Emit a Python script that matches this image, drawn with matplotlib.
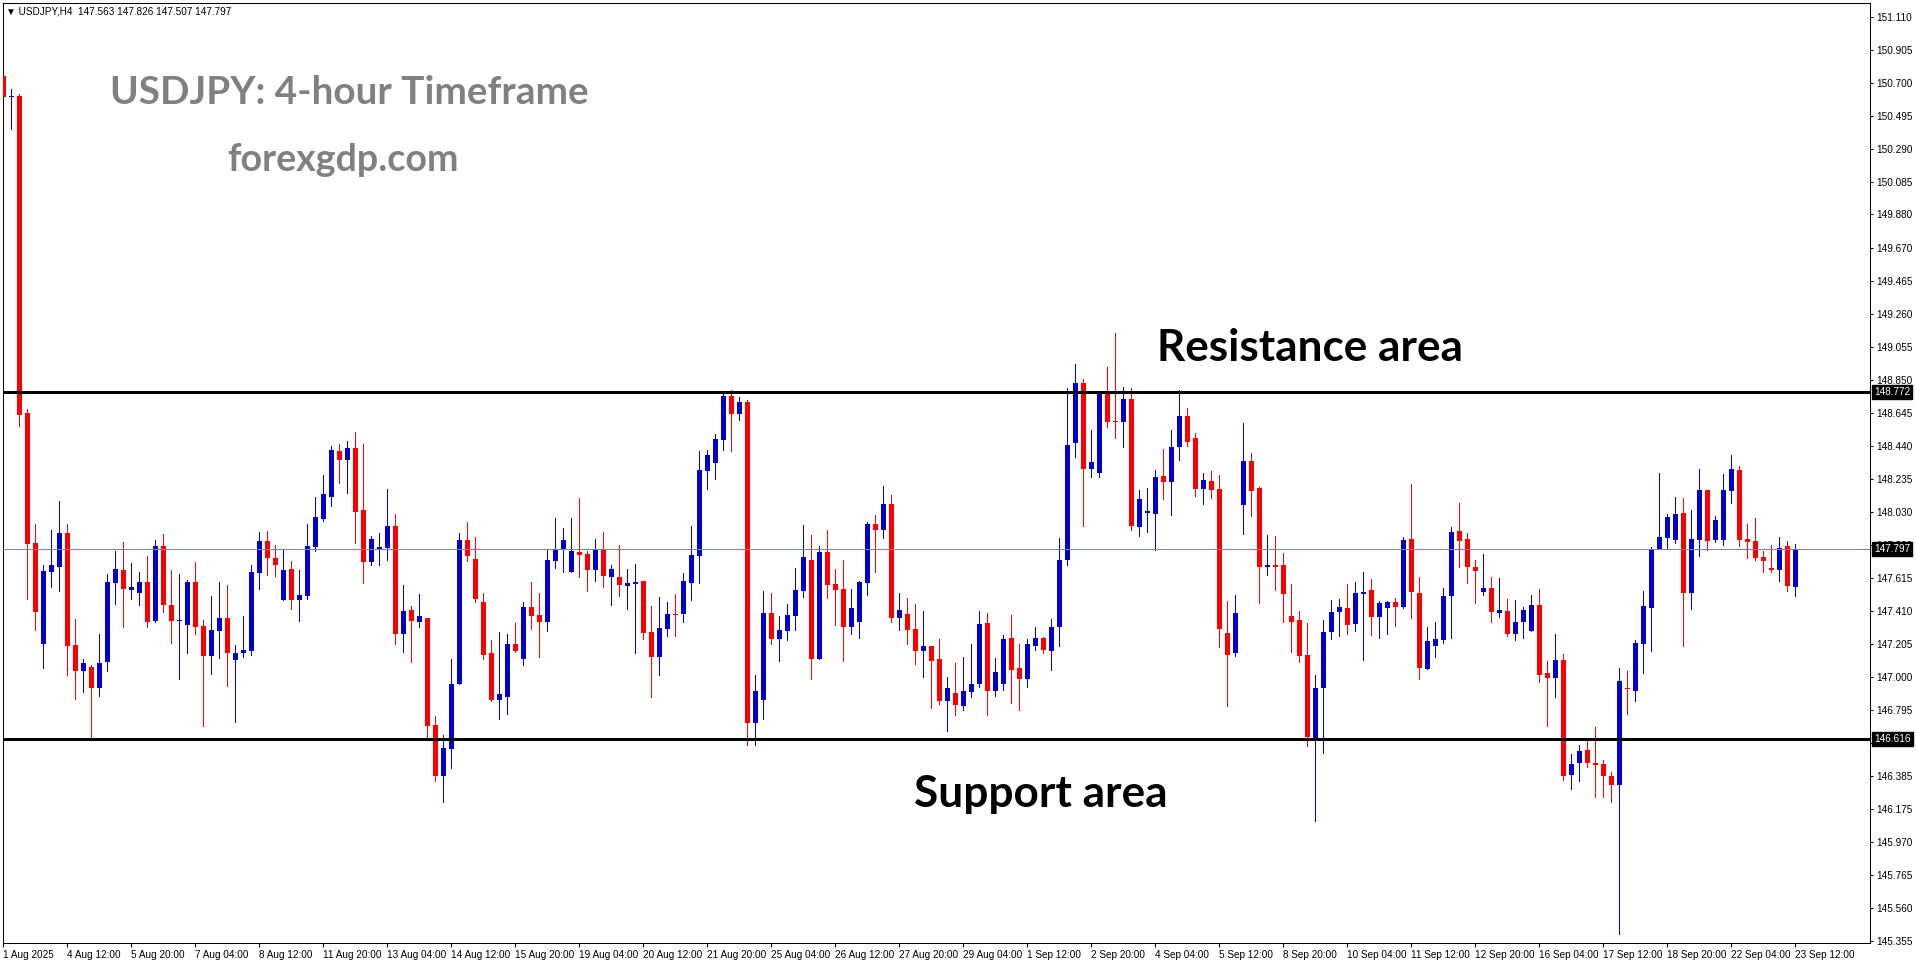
import matplotlib
matplotlib.use('Agg')
import matplotlib.pyplot as plt
import matplotlib.transforms as mtransforms
import numpy as np

W, H = 1916, 964

# USDJPY H4 candles, first visible bar is 1 Aug 2025 04:00
opens = [
    150.742, 150.612, 150.618, 148.642, 147.833, 147.208, 147.656, 147.687, 147.897, 147.200,
    147.040, 147.063, 146.928, 147.090, 147.588, 147.667, 147.544, 147.525, 147.592, 147.351,
    147.816, 147.449, 147.351, 147.326, 147.592, 147.318, 147.133, 147.289, 147.368, 147.108,
    147.146, 147.164, 147.650, 147.847, 147.741, 147.482, 147.673, 147.482, 147.507, 147.812,
    147.986, 148.123, 148.408, 148.354, 148.426, 148.038, 147.718, 147.793, 147.804, 147.941,
    147.270, 147.418, 147.345, 147.368, 146.701, 146.386, 146.554, 146.953, 147.853, 147.735,
    147.467, 147.150, 146.859, 146.878, 147.206, 147.114, 147.436, 147.386, 147.345, 147.725,
    147.793, 147.656, 147.779, 147.766, 147.663, 147.791, 147.623, 147.623, 147.569, 147.581,
    147.598, 147.281, 147.121, 147.301, 147.393, 147.389, 147.588, 147.756, 148.285, 148.335,
    148.478, 148.750, 148.640, 148.713, 146.710, 146.859, 147.399, 147.239, 147.289, 147.382,
    147.538, 147.729, 147.114, 147.779, 147.579, 147.548, 147.308, 147.339, 147.588, 147.953,
    147.918, 148.078, 147.364, 147.393, 147.299, 147.164, 147.193, 147.112, 146.853, 146.901,
    146.822, 146.909, 146.953, 147.337, 146.915, 146.953, 147.243, 147.056, 146.990, 147.195,
    147.243, 147.164, 147.314, 147.729, 148.457, 148.831, 148.298, 148.273, 148.769, 148.596,
    148.590, 148.731, 147.936, 148.024, 148.017, 148.252, 148.217, 148.435, 148.626, 148.489,
    148.173, 148.221, 148.171, 147.274, 147.146, 148.073, 148.345, 148.177, 147.687, 147.698,
    147.698, 147.380, 147.355, 147.137, 146.620, 146.928, 147.277, 147.407, 147.430, 147.332,
    147.519, 147.542, 147.376, 147.432, 147.467, 147.438, 147.860, 147.523, 147.052, 147.195,
    147.227, 147.507, 147.909, 147.860, 147.685, 147.532, 147.555, 147.401, 147.411, 147.270,
    147.339, 147.289, 147.449, 147.027, 146.996, 147.106, 146.390, 146.463, 146.546, 146.465,
    146.459, 146.384, 146.330, 146.934, 146.915, 147.208, 147.432, 147.797, 147.866, 147.853,
    148.022, 147.523, 147.853, 148.165, 147.853, 147.853, 148.159, 148.289, 147.860, 147.847,
    147.748, 147.679, 147.667, 147.816, 147.563,
]
highs = [
    150.925, 150.661, 150.630, 148.669, 147.953, 147.698, 147.916, 148.096, 147.953, 147.362,
    147.112, 147.075, 147.268, 147.642, 147.785, 147.841, 147.710, 147.654, 147.754, 147.853,
    147.891, 147.667, 147.642, 147.604, 147.716, 147.355, 147.505, 147.592, 147.573, 147.200,
    147.382, 147.698, 147.903, 147.909, 147.822, 147.797, 147.723, 147.667, 147.953, 148.121,
    148.258, 148.439, 148.451, 148.470, 148.526, 148.451, 147.878, 147.897, 148.171, 148.015,
    147.573, 147.442, 147.517, 147.368, 146.757, 146.639, 147.112, 147.897, 147.965, 147.872,
    147.523, 147.231, 147.281, 147.268, 147.337, 147.467, 147.592, 147.523, 147.797, 147.990,
    147.928, 147.990, 148.115, 147.785, 147.860, 147.903, 147.698, 147.822, 147.673, 147.704,
    147.598, 147.442, 147.498, 147.467, 147.517, 147.648, 147.941, 148.408, 148.414, 148.513,
    148.763, 148.785, 148.744, 148.725, 147.009, 147.536, 147.523, 147.380, 147.455, 147.679,
    147.947, 147.885, 147.816, 147.916, 147.673, 147.729, 147.548, 147.600, 147.965, 148.009,
    148.190, 148.134, 147.523, 147.492, 147.455, 147.411, 147.193, 147.237, 147.002, 147.088,
    147.121, 147.208, 147.411, 147.399, 147.119, 147.262, 147.386, 147.208, 147.237, 147.312,
    147.249, 147.362, 147.866, 148.800, 148.949, 148.856, 148.538, 148.780, 148.931, 149.142,
    148.806, 148.800, 148.165, 148.177, 148.289, 148.420, 148.538, 148.788, 148.675, 148.520,
    148.271, 148.283, 148.258, 147.474, 147.511, 148.582, 148.395, 148.183, 147.885, 147.878,
    147.772, 147.579, 147.411, 147.337, 147.015, 147.355, 147.480, 147.486, 147.579, 147.592,
    147.654, 147.611, 147.474, 147.474, 147.492, 147.872, 148.202, 147.623, 147.312, 147.343,
    147.555, 147.934, 148.084, 147.897, 147.729, 147.766, 147.623, 147.617, 147.486, 147.482,
    147.436, 147.511, 147.548, 147.102, 147.270, 147.145, 146.517, 146.577, 146.608, 146.689,
    146.484, 146.409, 147.056, 147.038, 147.231, 147.536, 147.810, 148.271, 148.015, 148.121,
    148.115, 148.040, 148.296, 148.165, 148.003, 148.264, 148.383, 148.314, 147.953, 147.990,
    147.785, 147.822, 147.872, 147.847, 147.826,
]
lows = [
    150.551, 150.412, 148.563, 147.488, 147.293, 147.058, 147.557, 147.538, 147.009, 146.863,
    146.909, 146.625, 146.884, 147.034, 147.457, 147.308, 147.488, 147.451, 147.308, 147.339,
    147.407, 147.214, 146.984, 147.152, 147.270, 146.697, 147.021, 147.115, 146.946, 146.722,
    147.121, 147.139, 147.550, 147.635, 147.629, 147.476, 147.426, 147.351, 147.488, 147.787,
    147.974, 148.067, 148.210, 148.148, 147.831, 147.582, 147.694, 147.700, 147.729, 147.202,
    147.158, 147.096, 147.314, 146.625, 146.350, 146.220, 146.430, 146.953, 147.725, 147.469,
    147.114, 146.853, 146.741, 146.772, 147.158, 147.077, 147.301, 147.121, 147.283, 147.681,
    147.656, 147.656, 147.623, 147.536, 147.598, 147.557, 147.445, 147.507, 147.426, 147.146,
    147.239, 146.872, 147.015, 147.252, 147.258, 147.345, 147.482, 147.588, 148.173, 148.235,
    148.416, 148.410, 148.597, 146.579, 146.579, 146.741, 147.208, 147.102, 147.227, 147.295,
    147.500, 146.990, 147.114, 147.494, 147.326, 147.102, 147.270, 147.245, 147.513, 147.656,
    147.868, 147.345, 147.295, 147.208, 147.083, 147.002, 146.809, 146.834, 146.666, 146.766,
    146.797, 146.872, 146.940, 146.766, 146.884, 146.921, 146.840, 146.791, 146.940, 147.170,
    147.146, 147.046, 147.195, 147.700, 148.370, 147.941, 148.248, 148.248, 148.559, 148.491,
    148.435, 147.912, 147.880, 147.905, 147.793, 148.111, 148.011, 148.354, 148.441, 148.129,
    148.080, 148.117, 147.189, 146.822, 147.133, 147.887, 148.005, 147.463, 147.637, 147.544,
    147.339, 147.158, 147.096, 146.567, 146.100, 146.529, 147.239, 147.252, 147.270, 147.283,
    147.108, 147.264, 147.245, 147.270, 147.320, 147.430, 147.364, 146.990, 147.052, 147.127,
    147.214, 147.245, 147.687, 147.588, 147.463, 147.513, 147.339, 147.376, 147.252, 147.233,
    147.245, 147.289, 146.971, 146.697, 146.872, 146.360, 146.300, 146.350, 146.436, 146.250,
    146.250, 146.220, 145.400, 146.772, 146.853, 147.027, 147.164, 147.797, 147.804, 147.835,
    147.195, 147.420, 147.754, 147.791, 147.841, 147.822, 148.084, 147.816, 147.741, 147.729,
    147.654, 147.654, 147.598, 147.536, 147.507,
]
closes = [
    150.610, 150.618, 148.632, 147.829, 147.407, 147.660, 147.698, 147.897, 147.195, 147.040,
    147.088, 146.934, 147.088, 147.592, 147.673, 147.550, 147.561, 147.592, 147.345, 147.816,
    147.445, 147.351, 147.357, 147.592, 147.308, 147.133, 147.293, 147.368, 147.146, 147.150,
    147.169, 147.654, 147.847, 147.743, 147.700, 147.667, 147.482, 147.511, 147.816, 147.997,
    148.140, 148.414, 148.354, 148.426, 148.030, 147.718, 147.860, 147.810, 147.941, 147.270,
    147.411, 147.351, 147.380, 146.697, 146.386, 146.556, 146.957, 147.853, 147.750, 147.488,
    147.139, 146.859, 146.894, 147.206, 147.164, 147.436, 147.382, 147.345, 147.729, 147.797,
    147.853, 147.785, 147.760, 147.667, 147.791, 147.629, 147.673, 147.573, 147.586, 147.592,
    147.276, 147.121, 147.305, 147.393, 147.387, 147.598, 147.760, 148.289, 148.383, 148.482,
    148.750, 148.640, 148.713, 146.710, 146.913, 147.399, 147.239, 147.293, 147.386, 147.542,
    147.748, 147.114, 147.779, 147.575, 147.544, 147.308, 147.430, 147.592, 147.953, 147.918,
    148.078, 147.364, 147.418, 147.295, 147.164, 147.193, 147.102, 146.853, 146.932, 146.828,
    146.913, 146.957, 147.330, 146.915, 147.031, 147.237, 147.046, 146.990, 147.206, 147.243,
    147.170, 147.312, 147.729, 148.445, 148.831, 148.298, 148.339, 148.769, 148.590, 148.590,
    148.731, 147.943, 148.109, 148.034, 148.246, 148.217, 148.433, 148.626, 148.466, 148.173,
    148.227, 148.167, 147.301, 147.139, 147.399, 148.345, 148.161, 147.687, 147.700, 147.687,
    147.519, 147.345, 147.133, 146.627, 146.934, 147.281, 147.405, 147.436, 147.326, 147.523,
    147.532, 147.376, 147.461, 147.467, 147.438, 147.853, 147.532, 147.058, 147.225, 147.237,
    147.505, 147.903, 147.849, 147.687, 147.662, 147.555, 147.407, 147.418, 147.270, 147.343,
    147.418, 147.449, 147.015, 146.996, 147.106, 146.380, 146.460, 146.540, 146.463, 146.452,
    146.380, 146.330, 146.975, 146.922, 147.212, 147.442, 147.797, 147.872, 147.997, 148.015,
    147.523, 147.860, 148.165, 147.847, 147.978, 148.165, 148.296, 147.853, 147.841, 147.741,
    147.723, 147.667, 147.804, 147.567, 147.797,
]

# time labels, one every 8 bars after the first
date_labels = ['1 Aug 2025', '4 Aug 12:00', '5 Aug 20:00', '7 Aug 04:00', '8 Aug 12:00',
               '11 Aug 20:00', '13 Aug 04:00', '14 Aug 12:00', '15 Aug 20:00', '19 Aug 04:00',
               '20 Aug 12:00', '21 Aug 20:00', '25 Aug 04:00', '26 Aug 12:00', '27 Aug 20:00',
               '29 Aug 04:00', '1 Sep 12:00', '2 Sep 20:00', '4 Sep 04:00', '5 Sep 12:00',
               '8 Sep 20:00', '10 Sep 04:00', '11 Sep 12:00', '12 Sep 20:00', '16 Sep 04:00',
               '17 Sep 12:00', '18 Sep 20:00', '22 Sep 04:00', '23 Sep 12:00']

price_ticks = [151.110, 150.905, 150.700, 150.495, 150.290, 150.085, 149.880, 149.670,
               149.465, 149.260, 149.055, 148.850, 148.645, 148.440, 148.235, 148.030,
               147.820, 147.615, 147.410, 147.205, 147.000, 146.795, 146.590, 146.385,
               146.175, 145.970, 145.765, 145.560, 145.355]

resistance = 148.772
support = 146.616

BLUE = '#0000CD'
RED = '#FF0000'
small_font = ['Liberation Sans', 'DejaVu Sans']

o = np.array(opens)
h = np.array(highs)
l = np.array(lows)
c = np.array(closes)
x = np.arange(len(o))
up = c >= o
colors = np.where(up, BLUE, RED)

fig = plt.figure(figsize=(W / 100, H / 100), dpi=100)
ax = fig.add_axes([2.7 / W, 1 - 943 / H, (1870 - 2.7) / W, (943 - 3) / H])
ax.set_xlim(-0.075, 233.34)
ax.set_ylim(145.343, 151.197)

px = 72 / 100  # one pixel in points

# wicks and bodies
ax.vlines(x, l, h, colors=colors, linewidth=px, antialiased=False, zorder=2)
body_lo = np.minimum(o, c)
body_h = np.maximum(np.abs(c - o), 0.0065)
ax.bar(x, body_h, bottom=body_lo, width=0.62, color=colors, linewidth=0,
       antialiased=False, zorder=3)

# support / resistance and bid line
ax.axhline(resistance, color='black', linewidth=2.8 * px, zorder=5, antialiased=False)
ax.axhline(support, color='black', linewidth=2.8 * px, zorder=5, antialiased=False)
ax.axhline(c[-1], color='#778899', linewidth=px, zorder=4, antialiased=False)

for s in ax.spines.values():
    s.set_linewidth(px)
    s.set_color('black')

# axes ticks
ax.yaxis.tick_right()
ax.set_yticks(price_ticks)
ax.set_yticklabels([f'{v:.3f}' for v in price_ticks], fontfamily=small_font, fontsize=7.2)
ax.tick_params(axis='y', length=3 * px, width=px, pad=2, colors='black')

xt = [0] + [8 * k for k in range(1, len(date_labels))]
ax.set_xticks(xt)
ax.set_xticklabels(date_labels, fontfamily=small_font, fontsize=7.2, ha='left')
ax.tick_params(axis='x', length=4 * px, width=px, pad=2, colors='black')

# price boxes on the right scale
trans = mtransforms.blended_transform_factory(ax.transAxes, ax.transData)
for v in [resistance, c[-1], support]:
    ax.text(1.0 + 4 / 1867, v, f'{v:.3f}', transform=trans, ha='left', va='center',
            fontfamily=small_font, fontsize=7.2, color='white', zorder=10, clip_on=False,
            bbox=dict(boxstyle='square,pad=0.2', facecolor='black', edgecolor='black'))

# header
fig.text(6 / W, 1 - 11 / H, '\u25bc USDJPY,H4  %.3f %.3f %.3f %.3f' % (o[-1], h[-1], l[-1], c[-1]),
         fontfamily=small_font, fontsize=7.2, va='center', ha='left')

# annotations
fig.text(110 / W, 1 - 104 / H, 'USDJPY: 4-hour Timeframe', fontfamily='Lato', fontweight='bold',
         fontsize=27.9, color='#808080', va='baseline', ha='left')
fig.text(227 / W, 1 - 171 / H, 'forexgdp.com', fontfamily='Lato', fontweight='bold',
         fontsize=27.1, color='#808080', va='baseline', ha='left')
fig.text(1157 / W, 1 - 361 / H, 'Resistance area', fontfamily='Lato', fontweight='bold',
         fontsize=31.8, color='black', va='baseline', ha='left')
fig.text(914 / W, 1 - 807 / H, 'Support area', fontfamily='Lato', fontweight='bold',
         fontsize=31.8, color='black', va='baseline', ha='left')

fig.savefig('out.png', dpi=100)
